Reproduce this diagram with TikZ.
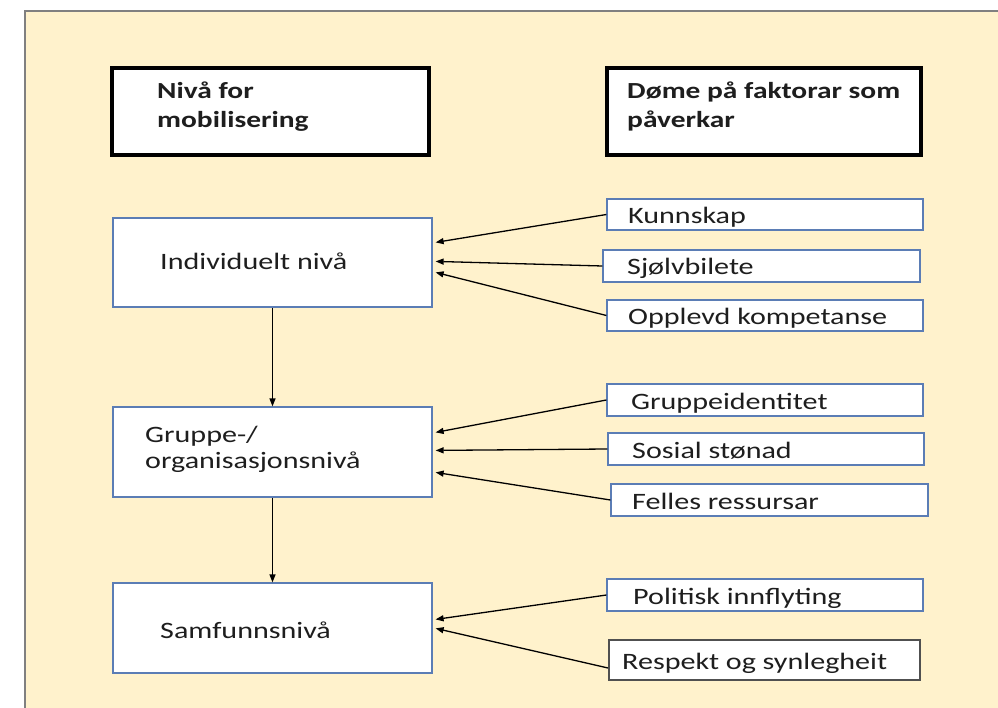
\documentclass[tikz,border=0pt]{standalone}
\usepackage{fontspec}
\setmainfont{Carlito}[FakeStretch=1.28]
\usetikzlibrary{arrows.meta,calc}
\definecolor{bgcream}{HTML}{FFF2CC}
\definecolor{bgedge}{HTML}{808080}
\definecolor{boxblue}{HTML}{5B7DB5}
\definecolor{boxgray}{HTML}{505050}
\definecolor{txt}{HTML}{1E1E1E}
\tikzset{
  headbox/.style={draw=black, line width=4pt, fill=white, inner sep=0pt},
  lvlbox/.style={draw=boxblue, line width=1.2pt, fill=white, inner sep=0pt},
  facbox/.style={draw=boxblue, line width=1.2pt, fill=white, inner sep=0pt},
  lbl/.style={anchor=base west, inner sep=0pt, text=txt, font=\fontsize{23.5}{26}\selectfont, align=left},
  hlbl/.style={anchor=base west, inner sep=0pt, text=txt, font=\fontsize{23}{29}\selectfont\bfseries, align=left},
  arr/.style={draw=black, line width=1.3pt, -{Triangle[length=8pt,width=6pt]}}
}
\begin{document}
\begin{tikzpicture}[x=1pt,y=-1pt]
\useasboundingbox (0,0) rectangle (998,708);
\fill[white] (0,0) rectangle (998,708);
\fill[bgcream] (25,11) rectangle (1000,710);
\draw[bgedge, line width=1.2pt] (25,712) -- (25,11) -- (1000,11);

% header boxes
\node[headbox, minimum width=317, minimum height=87] (hl) at (270.5,111.5) {};
\node[headbox, minimum width=314, minimum height=87] (hr) at (764,111.5) {};
\node[hlbl] (hlt) at (157,128) {Nivå for\\mobilisering};
\node[hlbl] (hrt) at (627,128) {Døme på faktorar som\\påverkar};

% level boxes
\node[lvlbox, minimum width=319, minimum height=89] (ind) at (272.5,262.5) {};
\node[lvlbox, minimum width=319, minimum height=90] (grp) at (272.5,452) {};
\node[lvlbox, minimum width=319, minimum height=90] (sam) at (272.5,628) {};
\node[lbl] (indt) at (160,269.5) {Individuelt nivå};
\node[lbl] (grpt) at (145,468.5) {Gruppe-/\\organisasjonsnivå};
\node[lbl] (samt) at (160,638.5) {Samfunnsnivå};

% factor boxes
\node[facbox, minimum width=316, minimum height=31] (kun) at (765,214.5) {};
\node[facbox, minimum width=317, minimum height=32] (sjo) at (761.5,266) {};
\node[facbox, minimum width=316, minimum height=31] (opp) at (765,315.5) {};
\node[facbox, minimum width=316, minimum height=32] (gid) at (765,400) {};
\node[facbox, minimum width=316, minimum height=32] (sos) at (766,449) {};
\node[facbox, minimum width=317, minimum height=32] (fel) at (769.5,500) {};
\node[facbox, minimum width=316, minimum height=32] (pol) at (765,595) {};
\node[facbox, draw=boxgray, line width=2pt, minimum width=311, minimum height=40] (res) at (764.5,660) {};

\node[lbl] (kunt) at (628,223.5) {Kunnskap};
\node[lbl] (sjot) at (627,275) {Sjølvbilete};
\node[lbl] (oppt) at (628,324.5) {Opplevd kompetanse};
\node[lbl] (gidt) at (631,409) {Gruppeidentitet};
\node[lbl] (sost) at (632,458) {Sosial stønad};
\node[lbl] (felt) at (632,509) {Felles ressursar};
\node[lbl] (polt) at (633,604) {Politisk innflyting};
\node[lbl] (rest) at (622,669) {Respekt og synlegheit};

% vertical arrows
\draw[arr] (ind.south) -- (grp.north);
\draw[arr] (grp.south) -- (sam.north);

% factor arrows
\draw[arr] (kun.west) -- ($(ind.north east)+(3,25)$);
\draw[arr] (sjo.west) -- ($(ind.north east)+(3,44)$);
\draw[arr] (opp.west) -- ($(ind.north east)+(3,55)$);
\draw[arr] (gid.west) -- ($(grp.north east)+(3,26)$);
\draw[arr] (sos.west) -- ($(grp.north east)+(3,44)$);
\draw[arr] (fel.west) -- ($(grp.north east)+(3,66)$);
\draw[arr] (pol.west) -- ($(sam.north east)+(3,37)$);
\draw[arr] ($(res.west)+(0,8)$) -- ($(sam.north east)+(3,46)$);
\end{tikzpicture}
\end{document}
